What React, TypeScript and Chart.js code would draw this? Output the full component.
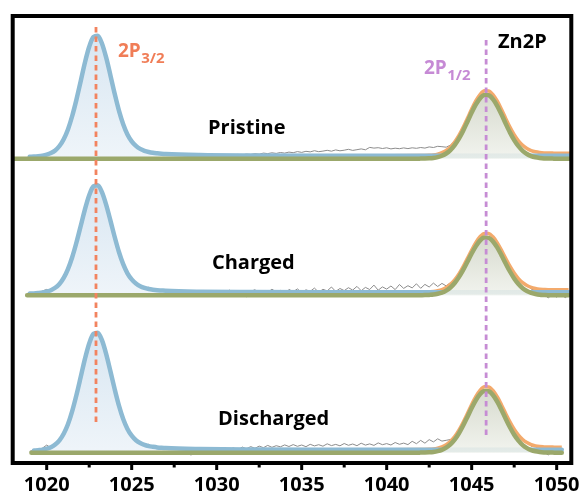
import React, { useEffect, useRef } from 'react';
import { Chart, registerables } from 'chart.js';

Chart.register(...registerables);

// ---------- axis ----------
const energyMin = 1018;
const energyMax = 1050.86;
const majorTicks = [1020, 1025, 1030, 1035, 1040, 1045, 1050];
const minorTicks = [1022.5, 1027.5, 1032.5, 1037.5, 1042.5, 1047.5];

// ---------- panels (top to bottom) ----------
const panelNames = ['Pristine', 'Charged', 'Discharged'];
const panelOffset = [304.3, 167.7, 10.3];
const panelStart = [1018, 1018.85, 1019.1];
const panelEnd = [1050.86, 1050.7, 1050.3];

// ---------- Zn 2p3/2 fitted component (blue) ----------
const fit1Energy = [
  1019, 1019.25, 1019.5, 1019.75, 1020, 1020.25, 1020.5, 1020.75, 1021, 1021.25, 1021.5,
  1021.75, 1022, 1022.25, 1022.5, 1022.75, 1023, 1023.25, 1023.5, 1023.75, 1024, 1024.25,
  1024.5, 1024.75, 1025, 1025.25, 1025.5, 1025.75, 1026, 1026.25, 1026.5, 1026.75, 1027,
];
const blueFitPristine = [
  1.9, 2.1, 2.5, 3.1, 4.1, 5.7, 8.3, 12.7, 19.5, 29.3, 42.7, 59.1, 77.5, 96.2, 111.9, 121.7,
  122.9, 115.2, 101.0, 83.3, 64.9, 48.1, 34.5, 24.3, 17.4, 12.8, 9.8, 7.9, 6.7, 5.9, 5.4, 5.0, 4.7,
];
const blueFitCharged = [
  1.7, 1.9, 2.3, 2.8, 3.6, 5.1, 7.5, 11.3, 17.4, 26.2, 38.1, 52.8, 69.3, 86.0, 100.1, 108.9,
  110.0, 103.2, 90.5, 74.7, 58.3, 43.3, 31.1, 22.0, 15.9, 11.7, 9.1, 7.4, 6.3, 5.6, 5.1, 4.8, 4.5,
];
const blueFitDischarged = [
  1.8, 2.1, 2.5, 3.0, 4.0, 5.5, 8.1, 12.4, 19.0, 28.5, 41.6, 57.7, 75.6, 93.8, 109.2, 118.8,
  119.9, 112.5, 98.6, 81.3, 63.4, 47.0, 33.7, 23.8, 17.0, 12.5, 9.7, 7.8, 6.6, 5.9, 5.3, 4.9, 4.6,
];
const blueTailEnergy = [1029, 1032, 1036];
const blueTailPristine = [3.7, 3.2, 3.0];
const blueTailCharged = [3.6, 3.2, 3.0];
const blueTailDischarged = [3.7, 3.2, 3.0];

// ---------- Zn 2p1/2 fitted component (olive) and envelope (orange) ----------
const fit2Energy = [
  1042, 1042.25, 1042.5, 1042.75, 1043, 1043.25, 1043.5, 1043.75, 1044, 1044.25, 1044.5,
  1044.75, 1045, 1045.25, 1045.5, 1045.75, 1046, 1046.25, 1046.5, 1046.75, 1047, 1047.25,
  1047.5, 1047.75, 1048, 1048.25, 1048.5, 1048.75, 1049, 1049.25, 1049.5, 1049.75, 1050,
];
const oliveFitPristine = [
  0.1, 0.2, 0.4, 0.8, 1.6, 3.0, 5.2, 8.6, 13.6, 20.0, 28.0, 37.0, 46.1, 54.3, 60.5, 63.7,
  63.4, 59.5, 52.9, 44.4, 35.1, 26.3, 18.6, 12.5, 7.9, 4.7, 2.6, 1.4, 0.7, 0.3, 0.2, 0.1, 0,
];
const oliveFitCharged = [
  0.1, 0.2, 0.4, 0.7, 1.5, 2.7, 4.7, 7.8, 12.3, 18.2, 25.4, 33.5, 41.8, 49.2, 54.9, 57.7,
  57.4, 53.9, 47.9, 40.2, 31.8, 23.8, 16.9, 11.3, 7.1, 4.3, 2.4, 1.3, 0.6, 0.3, 0.1, 0.1, 0,
];
const oliveFitDischarged = [
  0.1, 0.2, 0.4, 0.8, 1.6, 2.9, 5.1, 8.4, 13.1, 19.4, 27.2, 35.8, 44.7, 52.6, 58.7, 61.7,
  61.4, 57.7, 51.2, 43.0, 34.0, 25.5, 18.0, 12.1, 7.6, 4.6, 2.6, 1.4, 0.7, 0.3, 0.1, 0.1, 0,
];
const orangeFitPristine = [
  3.1, 3.2, 3.4, 3.8, 4.6, 6.0, 8.2, 11.7, 16.7, 23.2, 31.3, 40.4, 49.6, 58.0, 64.4, 67.9,
  67.8, 64.1, 57.7, 49.4, 40.3, 31.6, 24.0, 17.9, 13.4, 10.2, 8.1, 6.9, 6.2, 5.8, 5.7, 5.6, 5.5,
];
const orangeFitCharged = [
  3.1, 3.2, 3.4, 3.7, 4.5, 5.7, 7.7, 10.9, 15.4, 21.4, 28.7, 36.9, 45.3, 52.9, 58.8, 61.9,
  61.8, 58.5, 52.7, 45.2, 37.0, 29.1, 22.3, 16.7, 12.6, 9.8, 7.9, 6.8, 6.1, 5.8, 5.6, 5.6, 5.5,
];
const orangeFitDischarged = [
  3.1, 3.2, 3.4, 3.8, 4.6, 5.9, 8.1, 11.5, 16.2, 22.6, 30.5, 39.2, 48.2, 56.3, 62.6, 65.9,
  65.8, 62.3, 56.0, 48.0, 39.2, 30.8, 23.4, 17.5, 13.1, 10.1, 8.0, 6.8, 6.1, 5.8, 5.6, 5.6, 5.5,
];
const oliveFlatEnergy = 1041.75;
const orangeStartEnergy = 1040;
const orangeStartLevel = 3.0;
const orangeEndLevel = 5.5;

// ---------- raw spectra (gray), sampled every 0.25 eV from 1019 ----------
const rawStartEnergy = 1019;
const rawStep = 0.25;
const rawPristine = [
  1.6, 2.3, 2.2, 3.4, 3.8, 6.0, 8.1, 13.1, 19.9, 29.0, 43.3, 59.6, 78.1, 96.0, 112.6, 121.1,
  122.4, 115.8, 100.4, 84.0, 64.4, 48.6, 34.0, 24.9, 17.0, 13.1, 9.5, 8.2, 6.4, 6.2, 5.1, 5.3,
  4.4, 4.1, 3.8, 3.9, 3.4, 4.0, 3.3, 3.6, 3.6, 2.8, 3.4, 3.0, 3.7, 3.2, 3.9, 3.5,
  3.9, 4.3, 3.8, 4.6, 4.2, 5.0, 4.5, 5.6, 5.1, 5.9, 5.3, 6.2, 5.6, 6.6, 6.0, 7.1,
  6.3, 7.4, 6.8, 8.0, 7.0, 7.6, 8.4, 7.5, 8.8, 7.9, 8.5, 9.4, 8.3, 9.0, 9.8, 8.9,
  11.3, 10.6, 11.0, 10.2, 10.9, 9.8, 10.5, 10.0, 10.8, 10.1, 10.9, 10.4, 11.2, 10.6, 11.8, 11.2,
  12.4, 12.0, 11.5, 13.6, 17.8, 23.5, 31.9, 40.1, 50.2, 57.6, 64.9, 67.5, 68.3, 63.6, 58.2, 49.0,
  40.9, 31.2, 24.6, 17.5, 14.2, 9.7, 8.6, 6.4, 6.5, 5.2, 6.0, 4.9, 5.8, 5.1, 5.4, 5.0,
];
const rawCharged = [
  1.2, 2.4, 1.6, 4.3, 5.9, 4.4, 8.7, 11.0, 17.9, 25.5, 38.9, 52.1, 69.8, 85.4, 100.8, 108.5,
  110.4, 102.6, 91.4, 73.9, 59.0, 42.6, 31.9, 21.2, 17.1, 10.8, 10.4, 6.1, 8.0, 4.3, 6.4, 3.5,
  3.1, 4.9, 1.8, 4.2, 1.5, 4.3, -1.2, 3.0, 2.2, 4.6, 0.9, 3.9, -0.8, 4.1, 2.0, 5.2,
  1.2, 4.4, 2.7, -1.5, 3.8, 5.6, 1.9, 4.7, 2.9, 6.1, 3.3, 5.0, -0.9, 5.9, 3.6, 6.4,
  2.8, 5.5, 4.0, 7.2, 3.1, 6.0, 4.4, 8.3, 3.9, 6.8, 4.7, 7.6, 5.2, 8.9, 4.6, 7.9,
  5.8, 10.2, 5.1, 8.4, 6.2, 9.3, 5.7, 10.8, 6.9, 9.6, 7.4, 11.5, 7.0, 10.9, 8.3, 12.2,
  8.8, 11.9, 9.4, 12.6, 15.0, 22.3, 27.9, 37.8, 44.6, 53.6, 58.1, 62.8, 60.9, 59.4, 51.8, 46.1,
  36.2, 30.0, 21.5, 17.9, 11.4, 10.3, 6.2, 5.1, 2.4, 1.1, -2.6, 0.8, -1.9, 1.5, -2.4, 0.6,
];
const rawDischarged = [
  1.4, 2.5, 1.9, 4.6, 7.6, 4.8, 9.4, 12.1, 19.8, 27.6, 42.5, 56.9, 76.3, 92.7, 110.3, 117.6,
  120.8, 111.6, 99.9, 80.2, 64.1, 46.2, 34.6, 22.9, 18.1, 11.6, 11.0, 6.9, 8.4, 5.0, 6.2, 3.8,
  5.1, 1.2, 4.3, 2.6, 3.3, 0.6, -2.5, 2.7, 1.0, 3.4, -1.1, 2.8, 0.9, 3.1, -2.0, 3.6,
  4.8, 2.6, 5.7, 3.9, 6.1, 4.4, 6.6, 5.0, 7.3, 5.4, 7.0, 5.9, 7.8, 6.2, 8.1, 6.4,
  7.7, 6.0, 8.4, 6.8, 8.0, 6.5, 8.9, 7.1, 8.3, 6.9, 9.2, 7.4, 8.7, 7.0, 9.5, 7.6,
  8.8, 7.3, 9.8, 8.0, 9.1, 7.7, 10.2, 8.4, 9.6, 8.1, 11.4, 9.0, 12.3, 9.5, 13.1, 10.8,
  13.9, 11.6, 12.4, 13.2, 16.8, 23.7, 29.6, 40.3, 47.5, 57.0, 61.8, 66.4, 65.2, 63.0, 55.1, 48.9,
  38.4, 31.6, 22.7, 18.3, 12.2, 10.8, 6.4, 5.9, 2.1, 0.7, -2.3, 1.2, -1.6, 0.9, null, null,
];

const blueFits = [blueFitPristine, blueFitCharged, blueFitDischarged];
const blueTails = [blueTailPristine, blueTailCharged, blueTailDischarged];
const oliveFits = [oliveFitPristine, oliveFitCharged, oliveFitDischarged];
const orangeFits = [orangeFitPristine, orangeFitCharged, orangeFitDischarged];
const raws = [rawPristine, rawCharged, rawDischarged];

// ---------- reference lines & annotations ----------
const refLineEnergy = [1022.9, 1045.85];
const refLineFrom = [41, 28];
const refLineTo = [438, 425];
const refLineColors = ['#f2835f', '#c68cd4'];

const labelTexts = ['Pristine', 'Charged', 'Discharged', 'Zn2P'];
const labelEnergy = [1029.49, 1029.72, 1030.08, 1046.55];
const labelLevel = [329, 194, 38, 415];

const peakMain = ['2P', '2P'];
const peakSub = ['3/2', '1/2'];
const peakLabelEnergy = [1024.19, 1042.19];
const peakLabelLevel = [406, 389];
const peakLabelColors = ['#f07d57', '#c68ad5'];

const FONT = '"Open Sans", "DejaVu Sans", sans-serif';

function gradientFill(top: string, bottom: string, offset: number, peak: number, fallback: string) {
  return (context: any) => {
    const chart = context.chart;
    const { ctx, chartArea, scales } = chart;
    if (!chartArea || !scales || !scales.y) return fallback;
    const yTop = scales.y.getPixelForValue(offset + peak);
    const yBot = scales.y.getPixelForValue(offset);
    const g = ctx.createLinearGradient(0, yTop, 0, yBot);
    g.addColorStop(0, top);
    g.addColorStop(1, bottom);
    return g;
  };
}

const decorPlugin = {
  id: 'decor',
  afterDatasetsDraw(chart: any) {
    const { ctx, chartArea: a, scales } = chart;
    const x = scales.x;
    const y = scales.y;
    ctx.save();
    // frame
    ctx.strokeStyle = '#000';
    ctx.lineWidth = 4;
    ctx.strokeRect(a.left, a.top, a.right - a.left, a.bottom - a.top);
    // tick marks
    ctx.lineWidth = 3;
    ctx.lineCap = 'butt';
    ctx.beginPath();
    for (const v of majorTicks) {
      const px = x.getPixelForValue(v);
      ctx.moveTo(px, a.bottom);
      ctx.lineTo(px, a.bottom + 7);
    }
    for (const v of minorTicks) {
      const px = x.getPixelForValue(v);
      ctx.moveTo(px, a.bottom);
      ctx.lineTo(px, a.bottom + 4.5);
    }
    ctx.stroke();
    // panel labels
    ctx.textAlign = 'left';
    ctx.textBaseline = 'alphabetic';
    ctx.fillStyle = '#000';
    ctx.font = `bold 20px ${FONT}`;
    labelTexts.forEach((t, i) => {
      ctx.fillText(t, x.getPixelForValue(labelEnergy[i]), y.getPixelForValue(labelLevel[i]));
    });
    // peak labels with subscripts
    peakMain.forEach((t, i) => {
      const px = x.getPixelForValue(peakLabelEnergy[i]);
      const py = y.getPixelForValue(peakLabelLevel[i]);
      ctx.fillStyle = peakLabelColors[i];
      ctx.font = `bold 19px ${FONT}`;
      ctx.fillText(t, px, py);
      const w = ctx.measureText(t).width;
      ctx.font = `bold 15px ${FONT}`;
      ctx.fillText(peakSub[i], px + w + 0.5, py + 6);
    });
    ctx.restore();
  },
};

export default function App() {
  const canvasRef = useRef<HTMLCanvasElement>(null);

  useEffect(() => {
    const canvas = canvasRef.current;
    if (!canvas) return;

    const datasets: any[] = [];

    panelNames.forEach((name, p) => {
      const off = panelOffset[p];
      const start = panelStart[p];
      const end = panelEnd[p];

      // raw data
      const rawPts = raws[p].map((v, i) => ({
        x: rawStartEnergy + i * rawStep,
        y: v === null ? null : off + (v as number),
      }));
      datasets.push({
        label: `${name} raw`,
        data: rawPts,
        borderColor: '#8c8c8c',
        borderWidth: 1,
        pointRadius: 0,
        tension: 0,
        fill: false,
        order: 10,
      });

      // orange envelope
      const orangePts = [{ x: orangeStartEnergy, y: off + orangeStartLevel }]
        .concat(fit2Energy.map((e, i) => ({ x: e, y: off + orangeFits[p][i] })))
        .concat([{ x: end, y: off + orangeEndLevel }]);
      datasets.push({
        label: `${name} envelope`,
        data: orangePts,
        borderColor: '#f3aa6c',
        borderWidth: 3.5,
        pointRadius: 0,
        cubicInterpolationMode: 'monotone',
        fill: false,
        order: 8,
      });

      // blue component
      const bluePts = fit1Energy
        .map((e, i) => ({ x: e, y: off + blueFits[p][i] }))
        .filter((pt) => pt.x >= start)
        .concat(blueTailEnergy.map((e, i) => ({ x: e, y: off + blueTails[p][i] })))
        .concat([{ x: end, y: off + blueTails[p][blueTails[p].length - 1] }]);
      const bluePeak = Math.max(...blueFits[p]);
      datasets.push({
        label: `${name} 2p3/2`,
        data: bluePts,
        borderColor: '#8dbad3',
        borderWidth: 4.5,
        pointRadius: 0,
        cubicInterpolationMode: 'monotone',
        fill: { value: off },
        backgroundColor: gradientFill('rgba(214,229,241,0.95)', 'rgba(238,244,249,0.95)', off, bluePeak, '#e4eef6'),
        borderCapStyle: 'round',
        borderJoinStyle: 'round',
        order: 6,
      });

      // olive component + baseline
      const olivePts = [{ x: start, y: off }, { x: oliveFlatEnergy, y: off }]
        .concat(fit2Energy.map((e, i) => ({ x: e, y: off + oliveFits[p][i] })))
        .concat([{ x: end, y: off }]);
      const olivePeak = Math.max(...oliveFits[p]);
      datasets.push({
        label: `${name} 2p1/2`,
        data: olivePts,
        borderColor: '#9ba86b',
        borderWidth: 4.5,
        pointRadius: 0,
        cubicInterpolationMode: 'monotone',
        fill: { value: off },
        backgroundColor: gradientFill('rgba(210,214,200,0.88)', 'rgba(240,242,236,0.88)', off, olivePeak, '#e4e6df'),
        borderCapStyle: 'round',
        borderJoinStyle: 'round',
        order: 4,
      });
    });

    refLineEnergy.forEach((e, i) => {
      datasets.push({
        label: `ref ${i}`,
        data: [
          { x: e, y: refLineFrom[i] },
          { x: e, y: refLineTo[i] },
        ],
        borderColor: refLineColors[i],
        borderWidth: 2.8,
        borderDash: [5.5, 4],
        pointRadius: 0,
        fill: false,
        order: 1,
      });
    });

    const chart = new Chart(canvas, {
      type: 'line',
      data: { datasets },
      options: {
        responsive: false,
        animation: false,
        devicePixelRatio: 1,
        layout: { padding: { left: 12.7, right: 7.7, top: 16, bottom: 0 } },
        plugins: {
          legend: { display: false },
          tooltip: { enabled: false },
        },
        elements: { point: { radius: 0 } },
        scales: {
          x: {
            type: 'linear',
            min: energyMin,
            max: energyMax,
            grid: { display: false, drawTicks: false },
            border: { display: false },
            ticks: {
              padding: 10,
              color: '#000',
              font: { family: FONT, weight: 'bold', size: 20 },
              callback: (v: any) => String(v),
            },
            afterBuildTicks: (scale: any) => {
              scale.ticks = majorTicks.map((v) => ({ value: v }));
            },
            afterFit: (scale: any) => {
              scale.height = 30;
              scale.paddingLeft = 0;
              scale.paddingRight = 0;
            },
          },
          y: {
            type: 'linear',
            display: false,
            min: 0,
            max: 447,
          },
        },
      } as any,
      plugins: [decorPlugin],
    });

    return () => chart.destroy();
  }, []);

  return (
    <div style={{ position: 'absolute', left: 0, top: 0, width: 579, height: 493, background: '#fff' }}>
      <canvas ref={canvasRef} width={579} height={493} style={{ display: 'block' }} />
    </div>
  );
}
